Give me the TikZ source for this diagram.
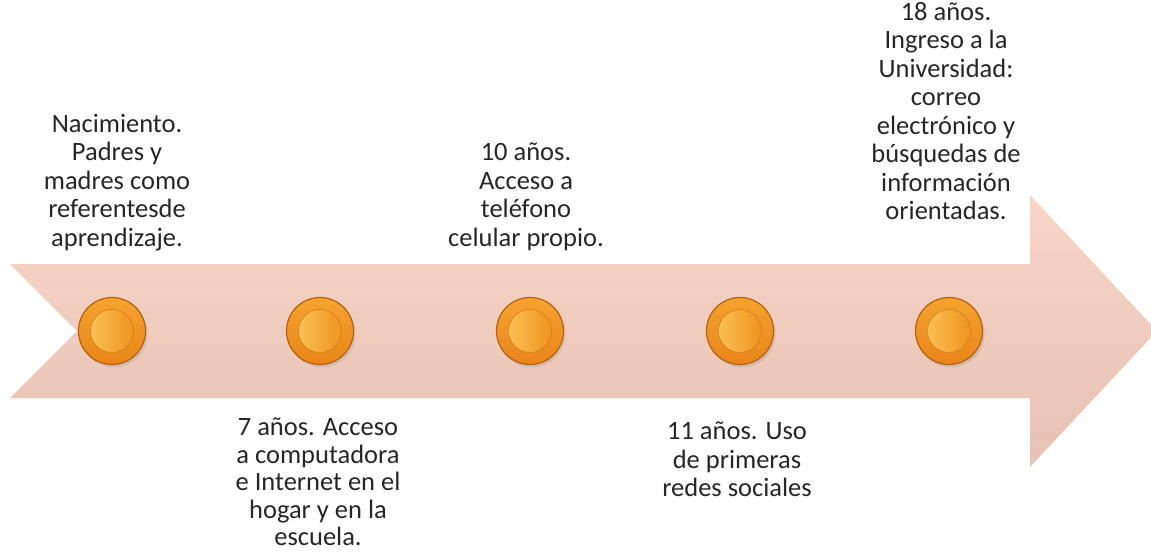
\documentclass[tikz,border=0pt]{standalone}
\usepackage{fontspec}
\setmainfont{Carlito}
\usetikzlibrary{shadows}
\definecolor{peachtop}{HTML}{F8D6C6}
\definecolor{peachbot}{HTML}{E7C1B4}
\definecolor{dotring}{HTML}{B5620F}
\definecolor{dottop}{HTML}{F6A32E}
\definecolor{dotbot}{HTML}{E8851A}
\definecolor{dotfill}{HTML}{F0921F}
\definecolor{dotlight}{HTML}{FAC052}
\definecolor{txtgray}{HTML}{262626}
\tikzset{
  hito/.style={circle, minimum size=67pt, inner sep=0pt, top color=dottop, bottom color=dotbot,
    draw=dotring, line width=1.2pt,
    drop shadow={shadow xshift=2pt, shadow yshift=-3pt, opacity=.22}},
  hitoin/.style={circle, minimum size=43pt, inner sep=0pt, left color=dotlight, right color=dotfill,
    draw=dotfill!85!black, line width=.5pt},
  etapa/.style={align=center, inner sep=0pt, text=txtgray, font=\fontsize{26.5}{28.5}\selectfont},
}
\begin{document}
\begin{tikzpicture}[x=1pt,y=-1pt]
    \useasboundingbox (0,0) rectangle (1151,556);
    % flecha
    \shade[top color=peachtop, bottom color=peachbot] (10,264) -- (1030,264) -- (1030,195) -- (1157,331)
        -- (1030,467) -- (1030,398) -- (10,398) -- (77,331) -- cycle;
    % hitos
    \foreach \n/\x in {1/112,2/320,3/530,4/740,5/949} {
        \node[hito] (d\n) at (\x,331) {};
        \node[hitoin] (c\n) at (d\n) {};
    }
    % etapas
    \node[etapa, anchor=north] (t1) at (117,114) {Nacimiento.\\Padres y\\madres como\\referentesde\\aprendizaje.};
    \node[etapa, anchor=north, font=\fontsize{26.5}{27.5}\selectfont] (t2) at (318,418)
        {7 años. Acceso\\a computadora\\e Internet en el\\hogar y en la\\escuela.};
    \node[etapa, anchor=north] (t3) at (526,143) {10 años.\\Acceso a\\teléfono\\celular propio.};
    \node[etapa, anchor=north] (t4) at (737,422) {11 años. Uso\\de primeras\\redes sociales};
    \node[etapa, anchor=north] (t5) at (946,2) {18 años.\\Ingreso a la\\Universidad:\\correo\\electrónico y\\búsquedas de\\información\\orientadas.};
\end{tikzpicture}
\end{document}
